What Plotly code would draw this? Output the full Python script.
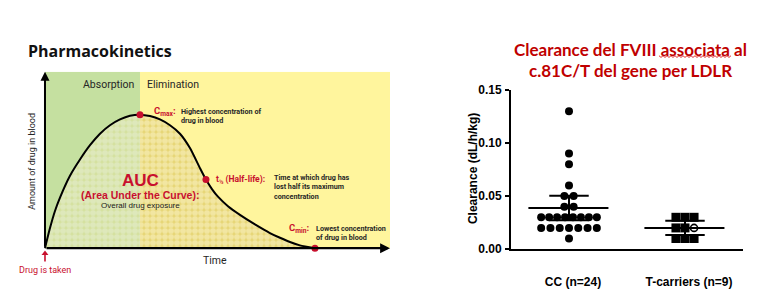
import numpy as np
import plotly.graph_objects as go

# ---------------- data: pharmacokinetic diagram (left) ----------------
pk_time = [0, 0.185, 0.370, 0.556, 0.926, 1.296, 1.667, 2.037, 2.407, 2.778, 3.148, 3.519,
           3.889, 4.259, 4.630, 5.000, 5.370, 5.741, 5.963, 6.185, 6.407, 6.778, 7.222,
           7.778, 8.333, 8.704, 9.074, 9.444, 10.0]
pk_amount = [0, 0.114, 0.211, 0.287, 0.411, 0.503, 0.584, 0.649, 0.697, 0.730, 0.751, 0.757,
             0.749, 0.730, 0.697, 0.649, 0.568, 0.454, 0.389, 0.335, 0.292, 0.238, 0.189,
             0.135, 0.086, 0.059, 0.035, 0.016, 0.0]
pk_phases = ["Absorption", "Elimination"]
pk_phase_edges = [0, 3.519, 12.78]
idx_cmax, idx_half, idx_cmin = 11, 18, 28

# ---------------- data: clearance scatter (right) ----------------
groups = ["CC (n=24)", "T-carriers (n=9)"]
cc_values = [0.13, 0.09, 0.08, 0.06, 0.05, 0.05, 0.04, 0.04,
             0.03, 0.03, 0.03, 0.03, 0.03, 0.03, 0.03, 0.03,
             0.02, 0.02, 0.02, 0.02, 0.02, 0.02, 0.02, 0.01]
tc_values = [0.03, 0.03, 0.03, 0.02, 0.02, 0.02, 0.01, 0.01, 0.01]
tc_open = [False, False, False, False, False, True, False, False, False]
y_ticks = [0.00, 0.05, 0.10, 0.15]
t_crit = {23: 2.069, 8: 2.306}  # two-sided 95% t critical values

RED = "#c8102e"
DARK = "#262626"
NARROW = "Roboto, Liberation Sans, sans-serif"
ARIAL = "Liberation Sans, Arial, sans-serif"
W, H = 768, 300


def px_x(x):
    return x / W


def px_y(y):
    return 1 - y / H


def swarm_offsets(values, step, max_span):
    vals = np.round(np.asarray(values, float), 4)
    offs = np.zeros(len(vals))
    for v in np.unique(vals):
        idx = np.where(vals == v)[0]
        n = len(idx)
        s = step if n <= 1 else min(step, max_span / (n - 1))
        offs[idx] = (np.arange(n) - (n - 1) / 2) * s
    return offs


fig = go.Figure()

# ---- left: pk curve fills ----
t = np.array(pk_time)
a = np.array(pk_amount)
SM = 0.6
fig.add_trace(go.Scatter(
    x=t[:idx_cmax + 1], y=a[:idx_cmax + 1], mode="lines", fill="tozeroy",
    line=dict(width=0, shape="spline", smoothing=SM, color="rgba(0,0,0,0)"),
    fillpattern=dict(shape=".", bgcolor="#d4e09e", fgcolor="#e8f0d8", size=6, solidity=0.72),
    hoverinfo="skip", xaxis="x", yaxis="y", showlegend=False))
fig.add_trace(go.Scatter(
    x=t[idx_cmax:], y=a[idx_cmax:], mode="lines", fill="tozeroy",
    line=dict(width=0, shape="spline", smoothing=SM, color="rgba(0,0,0,0)"),
    fillpattern=dict(shape=".", bgcolor="#e6d574", fgcolor="#fdf7d0", size=6, solidity=0.72),
    hoverinfo="skip", xaxis="x", yaxis="y", showlegend=False))
fig.add_trace(go.Scatter(
    x=t, y=a, mode="lines", line=dict(color="black", width=2, shape="spline", smoothing=SM),
    xaxis="x", yaxis="y", showlegend=False, hoverinfo="skip"))
fig.add_trace(go.Scatter(
    x=[t[idx_cmax], t[idx_half], t[idx_cmin]], y=[a[idx_cmax], a[idx_half], a[idx_cmin]],
    mode="markers", marker=dict(color=RED, size=7), cliponaxis=False,
    xaxis="x", yaxis="y", showlegend=False, hoverinfo="skip"))
# "drug is taken" arrow at time zero
fig.add_trace(go.Scatter(
    x=[t[0], t[0]], y=[-0.075, -0.035], mode="lines", line=dict(color=RED, width=1.6),
    cliponaxis=False, xaxis="x", yaxis="y", showlegend=False, hoverinfo="skip"))
fig.add_trace(go.Scatter(
    x=[t[0]], y=[-0.03], mode="markers", marker=dict(color=RED, size=6, symbol="triangle-up"),
    cliponaxis=False, xaxis="x", yaxis="y", showlegend=False, hoverinfo="skip"))

# ---- right: scatter ----
cc_x = 0 + swarm_offsets(cc_values, 0.08, 0.48)
tc_x = 1 + swarm_offsets(tc_values, 0.078, 0.5)
fig.add_trace(go.Scatter(
    x=cc_x, y=cc_values, mode="markers", marker=dict(color="black", size=8),
    cliponaxis=False, xaxis="x2", yaxis="y2", showlegend=False))
tc_x = np.array(tc_x)
tc_v = np.array(tc_values)
mask = np.array(tc_open)
fig.add_trace(go.Scatter(
    x=tc_x[~mask], y=tc_v[~mask], mode="markers",
    marker=dict(color="black", size=9, symbol="square"),
    cliponaxis=False, xaxis="x2", yaxis="y2", showlegend=False))
fig.add_trace(go.Scatter(
    x=tc_x[mask], y=tc_v[mask], mode="markers",
    marker=dict(color="white", size=7, symbol="circle", line=dict(color="black", width=1.6)),
    cliponaxis=False, xaxis="x2", yaxis="y2", showlegend=False))

# mean and 95% CI
for gi, vals in enumerate([cc_values, tc_values]):
    v = np.array(vals)
    n = len(v)
    m = v.mean()
    ci = t_crit[n - 1] * v.std(ddof=1) / np.sqrt(n)
    lo, hi = m - ci, m + ci
    xs = [gi - 0.35, gi + 0.34, None, gi - 0.17, gi + 0.17, None,
          gi - 0.17, gi + 0.17, None, gi, gi]
    ys = [m, m, None, hi, hi, None, lo, lo, None, lo, hi]
    fig.add_trace(go.Scatter(x=xs, y=ys, mode="lines", line=dict(color="black", width=2),
                             xaxis="x2", yaxis="y2", showlegend=False, hoverinfo="skip"))

# ---- shapes: phase backgrounds ----
shapes = []
for i, col in enumerate(["#c5e0a0", "#fff59d"]):
    shapes.append(dict(type="rect", xref="x", yref="y", layer="below",
                       x0=pk_phase_edges[i], x1=pk_phase_edges[i + 1], y0=0, y1=1,
                       fillcolor=col, line=dict(width=0)))

# red squiggle under "associata"
zx = np.arange(659, 733, 2)
zy = 52 + np.where(np.arange(len(zx)) % 2 == 0, -0.9, 0.9)
path = "M " + " L ".join(f"{px_x(x):.5f},{px_y(y):.5f}" for x, y in zip(zx, zy))
shapes.append(dict(type="path", xref="paper", yref="paper", path=path,
                   line=dict(color="#e03030", width=1)))

# ---- annotations ----
ann = []
def A(**k):
    base = dict(showarrow=False)
    base.update(k)
    ann.append(base)

# axes arrows (left)
A(x=pk_phase_edges[-1], y=0, ax=0, ay=0, xref="x", yref="y", axref="x", ayref="y",
  showarrow=True, arrowhead=2, arrowsize=0.9, arrowwidth=2.2, arrowcolor="black", text="")
A(x=0, y=1, ax=0, ay=0, xref="x", yref="y", axref="x", ayref="y",
  showarrow=True, arrowhead=2, arrowsize=0.9, arrowwidth=2, arrowcolor="black", text="")

A(text="Pharmacokinetics", x=px_x(26), y=px_y(46), xref="paper", yref="paper",
  xanchor="left", yanchor="middle", font=dict(family="Open Sans, sans-serif", size=16, color="#111111", weight="bold"))
A(text=pk_phases[0], x=2.37, y=0.926, xref="x", yref="y", xanchor="center", yanchor="middle",
  font=dict(family=NARROW, size=10.5, color=DARK))
A(text=pk_phases[1], x=3.70, y=0.926, xref="x", yref="y", xanchor="left", yanchor="middle",
  font=dict(family=NARROW, size=10.5, color=DARK))
A(text="Amount of drug in blood", x=-0.48, y=0.49, xref="x", yref="y", textangle=-90,
  xanchor="center", yanchor="middle", font=dict(family=NARROW, size=9, color=DARK))
A(text="Time", x=6.3, y=-0.07, xref="x", yref="y", xanchor="center", yanchor="middle",
  font=dict(family=NARROW, size=10.5, color=DARK))
A(text="Drug is taken", x=0, y=-0.125, xref="x", yref="y", xanchor="center", yanchor="middle",
  font=dict(family=NARROW, size=9, color=RED))

SMALL = dict(family=NARROW, size=7.2, color=DARK, weight="bold")
A(text="C<sub>max</sub>:", x=3.98, y=0.775, xref="x", yref="y", xanchor="left", yanchor="middle",
  font=dict(family=NARROW, size=9.5, color=RED, weight="bold"))
A(text="Highest concentration of<br>drug in blood", x=4.96, y=0.748, xref="x", yref="y",
  xanchor="left", yanchor="middle", align="left", font=SMALL)
A(text="t<sub>½</sub> (Half-life):", x=6.25, y=0.389, xref="x", yref="y", xanchor="left", yanchor="middle",
  font=dict(family=NARROW, size=8.5, color=RED, weight="bold"))
A(text="Time at which drug has<br>lost half its maximum<br>concentration", x=8.41, y=0.346,
  xref="x", yref="y", xanchor="left", yanchor="middle", align="left", font=SMALL)
A(text="C<sub>min</sub>:", x=8.98, y=0.11, xref="x", yref="y", xanchor="left", yanchor="middle",
  font=dict(family=NARROW, size=9.5, color=RED, weight="bold"))
A(text="Lowest concentration<br>of drug in blood", x=9.96, y=0.084, xref="x", yref="y",
  xanchor="left", yanchor="middle", align="left", font=SMALL)
A(text="AUC", x=3.52, y=0.384, xref="x", yref="y", xanchor="center", yanchor="middle",
  font=dict(family=ARIAL, size=17, color=RED, weight="bold"))
A(text="(Area Under the Curve):", x=3.52, y=0.303, xref="x", yref="y", xanchor="center", yanchor="middle",
  font=dict(family=ARIAL, size=10.5, color=RED, weight="bold"))
A(text="Overall drug exposure", x=3.52, y=0.243, xref="x", yref="y", xanchor="center", yanchor="middle",
  font=dict(family=ARIAL, size=8, color="#1a1a1a"))

# right title
TFONT = dict(family="Lato, Open Sans, sans-serif", size=17, color="#c00000", weight="bold")
A(text="Clearance del FVIII associata al", x=px_x(630), y=px_y(45), xref="paper", yref="paper",
  xanchor="center", yanchor="middle", font=TFONT)
A(text="c.81C/T del gene per LDLR", x=px_x(630), y=px_y(67), xref="paper", yref="paper",
  xanchor="center", yanchor="middle", font=TFONT)
A(text="Clearance (dL/h/kg)", x=px_x(473), y=px_y(170), xref="paper", yref="paper", textangle=-90,
  xanchor="center", yanchor="middle", font=dict(family=ARIAL, size=12, color="black", weight="bold"))

fig.update_layout(
    width=W, height=H, margin=dict(l=0, r=0, t=0, b=0),
    paper_bgcolor="white", plot_bgcolor="rgba(0,0,0,0)",
    shapes=shapes, annotations=ann, showlegend=False,
    xaxis=dict(domain=[0, px_x(390)], range=[-45 / 27, pk_phase_edges[-1]], visible=False, fixedrange=True),
    yaxis=dict(domain=[0, px_y(68)], range=[-47 / 185, 1], visible=False, fixedrange=True),
    xaxis2=dict(domain=[px_x(511), px_x(743)], range=[-0.5, 1.5], anchor="y2",
                showline=True, linecolor="black", linewidth=2, showgrid=False, zeroline=False,
                ticks="", tickvals=[0, 1], ticktext=groups, ticklabelstandoff=20, ticklabelshift=4,
                tickfont=dict(family=ARIAL, size=12, color="black", weight="bold")),
    yaxis2=dict(domain=[px_y(254), px_y(87)], range=[0, 0.15], anchor="x2",
                showline=True, linecolor="black", linewidth=2, showgrid=False, zeroline=False,
                ticks="outside", ticklen=4, tickwidth=2, tickcolor="black",
                tickvals=y_ticks, tickformat=".2f", ticklabelstandoff=1,
                tickfont=dict(family=ARIAL, size=12, color="black", weight="bold")),
)

fig.write_html("out.html")
